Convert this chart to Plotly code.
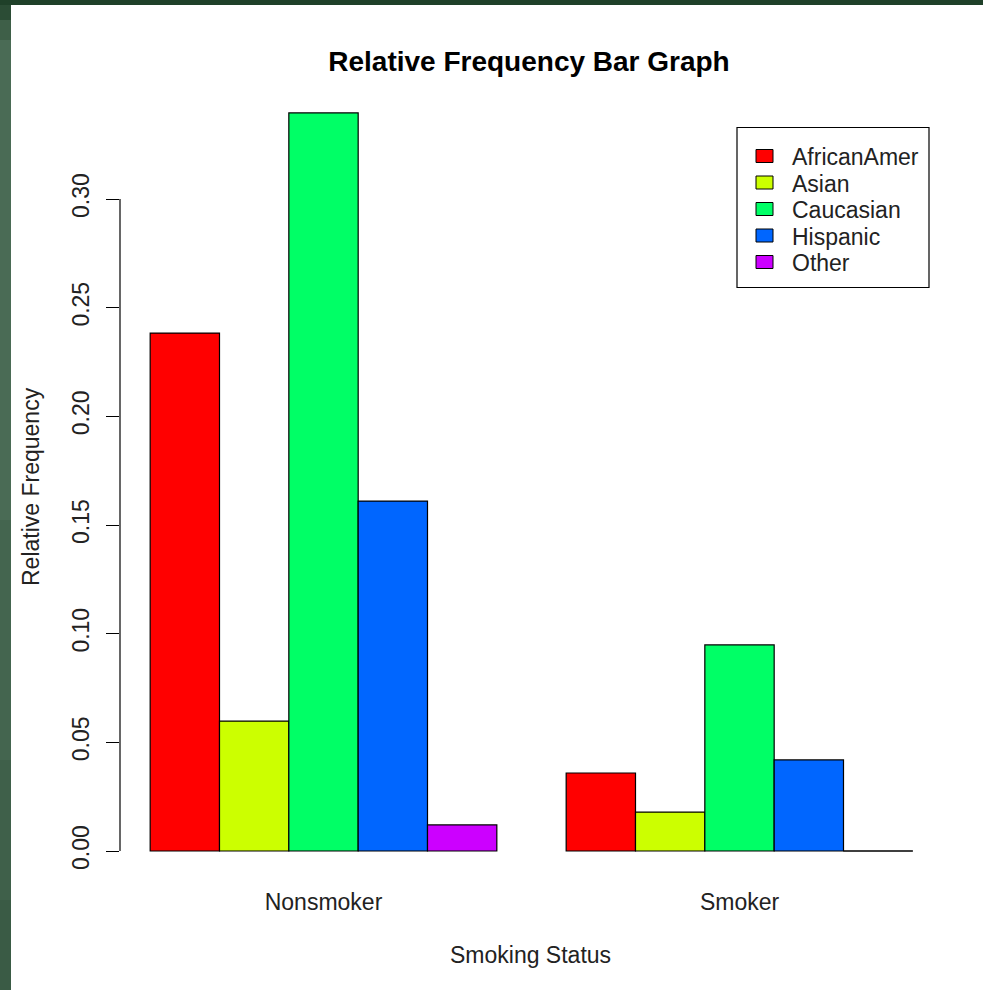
import plotly.graph_objects as go

# ---- data ----
categories = ["Nonsmoker", "Smoker"]
series_names = ["AfricanAmer", "Asian", "Caucasian", "Hispanic", "Other"]
series_values = {
    "AfricanAmer": [0.2383, 0.0359],
    "Asian": [0.0598, 0.0179],
    "Caucasian": [0.3396, 0.0948],
    "Hispanic": [0.1610, 0.0419],
    "Other": [0.0120, 0.0],
}
series_colors = ["#FF0000", "#CCFF00", "#00FF66", "#0066FF", "#CC00FF"]
y_ticks = [0.00, 0.05, 0.10, 0.15, 0.20, 0.25, 0.30]
y_tick_labels = ["0.00", "0.05", "0.10", "0.15", "0.20", "0.25", "0.30"]

# ---- geometry (pixels) ----
FW, FH = 983, 990
L, R, T, B = 120, 944, 83, 880
PW, PH = R - L, B - T
FONT = "Liberation Sans, Arial, sans-serif"
TXT = "#222222"


def px_x(p):
    return (p - L) / PW


def px_y(p):
    return (B - p) / PH


bargap = 1 / 6
n = len(series_names)
bar_w = (1 - bargap) / n

fig = go.Figure()
for i, name in enumerate(series_names):
    fig.add_trace(go.Bar(
        x=categories, y=series_values[name], name=name,
        marker=dict(color=series_colors[i], line=dict(color="black", width=1.2)),
        showlegend=False,
    ))

shapes = []
# background: green frame + white page
shapes.append(dict(type="rect", xref="paper", yref="paper", layer="below",
                   x0=px_x(11), x1=px_x(FW + 5), y0=px_y(5), y1=px_y(FH + 5),
                   fillcolor="white", line=dict(width=0)))
strip = [(0, 5, "#1f4029"), (5, 20, "#2b4c35"), (20, 40, "#3e5f48"), (40, 520, "#4a6b55"),
         (520, 760, "#44654f"), (760, 900, "#3f604a"), (900, FH + 2, "#3a5b45")]
for y0, y1, c in strip:
    shapes.append(dict(type="rect", xref="paper", yref="paper", layer="below",
                       x0=px_x(-2), x1=px_x(11), y0=px_y(y0), y1=px_y(y1),
                       fillcolor=c, line=dict(width=0)))
shapes.append(dict(type="rect", xref="paper", yref="paper", layer="below",
                   x0=px_x(-2), x1=px_x(FW + 2), y0=px_y(-2), y1=px_y(5),
                   fillcolor="#1f4029", line=dict(width=0)))

# y axis line only across tick range (R style)
shapes.append(dict(type="line", xref="paper", yref="y", x0=0, x1=0,
                   y0=min(y_ticks), y1=max(y_ticks), line=dict(color="black", width=1.2)))

# zero-height bars drawn as lines (R draws them)
for i, name in enumerate(series_names):
    for ci, v in enumerate(series_values[name]):
        if v == 0:
            c = ci + (i - (n - 1) / 2) * bar_w
            shapes.append(dict(type="line", xref="x", yref="y",
                               x0=c - bar_w / 2, x1=c + bar_w / 2, y0=0, y1=0,
                               line=dict(color="black", width=1.2)))

# legend box
shapes.append(dict(type="rect", xref="paper", yref="paper",
                   x0=px_x(737), x1=px_x(929), y0=px_y(127.5), y1=px_y(287.5),
                   line=dict(color="black", width=1.2), fillcolor="white"))
annotations = []
row0, drow = 156, 26.5
for i, name in enumerate(series_names):
    yc = row0 + i * drow
    shapes.append(dict(type="rect", xref="paper", yref="paper",
                       x0=px_x(756), x1=px_x(773), y0=px_y(yc - 6.5), y1=px_y(yc + 6.5),
                       fillcolor=series_colors[i], line=dict(color="black", width=1)))
    annotations.append(dict(text=name, xref="paper", yref="paper", x=px_x(790), y=px_y(yc + 1),
                            xanchor="left", yanchor="middle", showarrow=False,
                            font=dict(family=FONT, size=23, color=TXT)))

# axis titles
annotations.append(dict(text="Smoking Status", xref="paper", yref="paper",
                        x=px_x(530), y=px_y(955), xanchor="center", yanchor="middle",
                        showarrow=False, font=dict(family=FONT, size=23, color=TXT)))
annotations.append(dict(text="Relative Frequency", xref="paper", yref="paper",
                        x=px_x(31), y=px_y(487), xanchor="center", yanchor="middle",
                        textangle=-90, showarrow=False, font=dict(family=FONT, size=23, color=TXT)))

fig.update_layout(
    width=FW, height=FH,
    margin=dict(l=L, r=FW - R, t=T, b=FH - B, pad=0),
    paper_bgcolor="white", plot_bgcolor="rgba(0,0,0,0)",
    barmode="group", bargap=bargap, bargroupgap=0,
    title=dict(text="<b>Relative Frequency Bar Graph</b>", x=px_x(529), xref="paper",
               y=1 - 61 / FH, yref="container", xanchor="center", yanchor="middle",
               font=dict(family=FONT, size=28, color="black")),
    shapes=shapes, annotations=annotations,
    showlegend=False,
    xaxis=dict(range=[(L - 323.5) / 416, (R - 323.5) / 416], showline=False, showgrid=False,
               zeroline=False, ticks="", tickfont=dict(family=FONT, size=23, color=TXT),
               ticklabelstandoff=6),
    yaxis=dict(range=[-(B - 851) / 2173.3, (851 - T) / 2173.3], showline=False, showgrid=False,
               zeroline=False, tickvals=y_ticks, ticktext=y_tick_labels, tickangle=-90,
               ticks="outside", ticklen=13, tickwidth=1.2, tickcolor="black",
               tickfont=dict(family=FONT, size=23, color=TXT), ticklabelstandoff=8),
)

fig.write_html("out.html", config={"displayModeBar": False},
               post_script="document.body.style.margin='0px';document.body.style.overflow='hidden';")
